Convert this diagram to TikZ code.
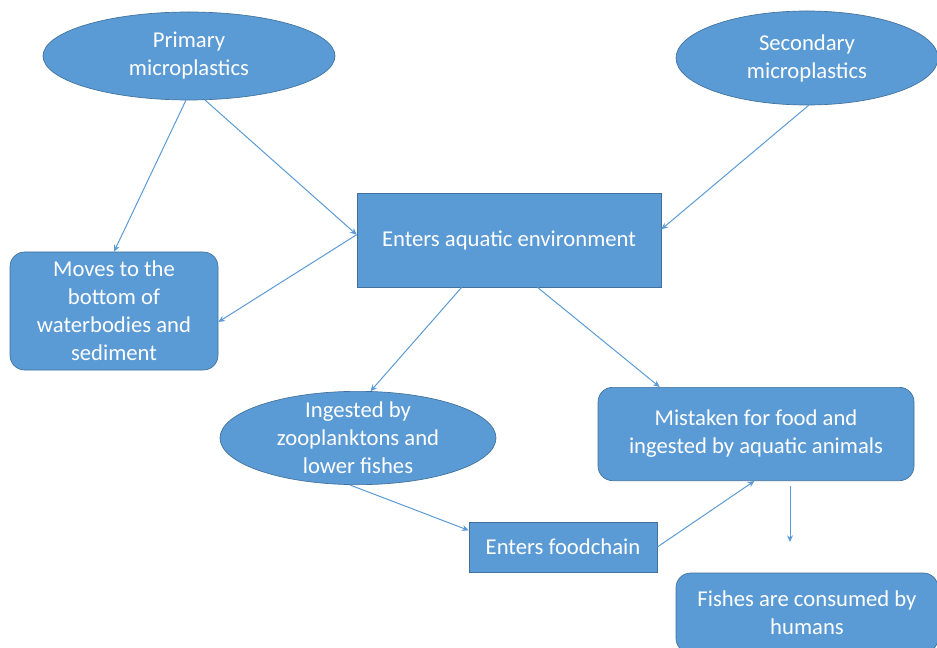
\documentclass[tikz,border=0pt]{standalone}
\usepackage{fontspec}
\setmainfont{Carlito}
\usetikzlibrary{arrows.meta,shapes.geometric}

\definecolor{boxblue}{RGB}{91,155,213}
\definecolor{edgeblue}{RGB}{65,113,156}
\definecolor{lineblue}{RGB}{91,155,213}

\tikzset{every picture/.style={line width=0.75pt}}
\tikzset{
  blob/.style={ellipse, fill=boxblue, draw=edgeblue, line width=0.5pt, text=white, align=center,
    inner sep=-15pt, font=\fontsize{17}{21}\selectfont},
  plainbox/.style={rectangle, fill=boxblue, draw=edgeblue, line width=0.5pt, text=white, align=center,
    inner sep=0pt, font=\fontsize{17}{21}\selectfont},
  roundbox/.style={plainbox, rounded corners=11pt},
  arr/.style={draw=lineblue, line width=0.75pt, -{Stealth[length=5pt,width=4.5pt]}}
}

\begin{document}
\begin{tikzpicture}[x=0.75pt,y=0.75pt,yscale=-1,xscale=1]
	\path[use as bounding box, clip] (0,0) rectangle (937,648);

	%Shape: Ellipse [id:prim]
	\node (prim) at (189,56) [blob, minimum width=219pt, minimum height=66pt] {Primary\\microplastics};
	%Shape: Ellipse [id:sec]
	\node (sec) at (807,58) [blob, minimum width=196.5pt, minimum height=70.5pt] {Secondary\\microplastics};
	%Shape: Rectangle [id:env]
	\node (env) at (509,240) [plainbox, minimum width=228pt, minimum height=70.5pt] {Enters aquatic environment};
	%Shape: Rounded Rect [id:moves]
	\node (moves) at (114,311) [roundbox, minimum width=156pt, minimum height=88.5pt] {Moves to the\\bottom of\\waterbodies and\\sediment};
	%Shape: Ellipse [id:ingest]
	\node (ingest) at (358,438) [blob, minimum width=207pt, minimum height=70pt] {Ingested by\\zooplanktons and\\lower fishes};
	%Shape: Rounded Rect [id:mistake]
	\node (mistake) at (756,434) [roundbox, minimum width=237pt, minimum height=70pt] {Mistaken for food and\\ingested by aquatic animals};
	%Shape: Rectangle [id:food]
	\node (food) at (563,547) [plainbox, minimum width=141pt, minimum height=37.5pt] {Enters foodchain};
	%Shape: Rounded Rect [id:fishes]
	\node (fishes) at (807,613) [roundbox, minimum width=196.5pt, minimum height=60pt] {Fishes are consumed by\\humans};
	%uncomment if require: free end of the last arrow
	\coordinate (drop) at (790,542);

	%Straight Lines [id:prim-moves]
	\draw [arr] (prim.-94) -- (moves.north);
	%Straight Lines [id:prim-env]
	\draw [arr] (prim.-70) -- (env.178);
	%Straight Lines [id:env-moves]
	\draw [arr] (env.178) -- (moves.-6);
	%Straight Lines [id:sec-env]
	\draw [arr] (sec.-88) -- (env.4);
	%Straight Lines [id:env-ingest]
	\draw [arr] (env.-135) -- (ingest.75);
	%Straight Lines [id:env-mistake]
	\draw [arr] (env.-59) -- (mistake.154);
	%Straight Lines [id:ingest-food]
	\draw [arr] (ingest.-100) -- (food.170);
	%Straight Lines [id:food-mistake]
	\draw [arr] (food.east) -- (mistake.-92);
	%Straight Lines [id:mistake-drop]
	\draw [arr, shorten <=4pt] (mistake.south -| drop) -- (drop);

\end{tikzpicture}
\end{document}
